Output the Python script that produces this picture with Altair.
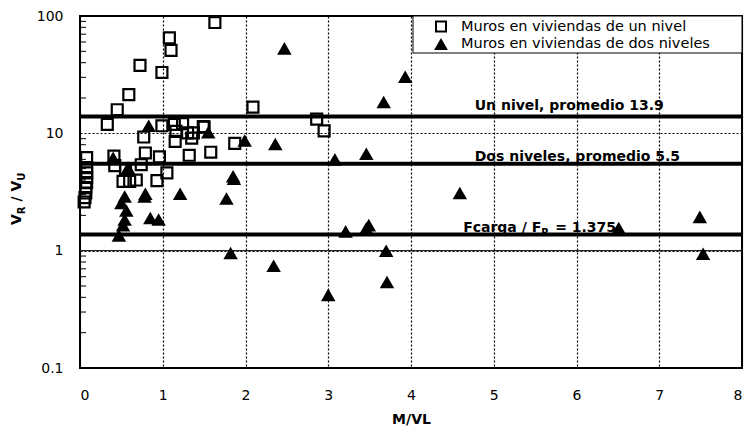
import altair as alt
import pandas as pd

# Walls in one-storey houses: M/VL and VR/VU
un_x = [0.08, 0.08, 0.08, 0.08, 0.08, 0.07, 0.07, 0.06, 0.05,
        0.33, 0.41, 0.42, 0.45, 0.52, 0.55, 0.59, 0.60, 0.68, 0.725, 0.74,
        0.77, 0.79, 0.93, 0.96, 0.99, 0.99, 1.05, 1.08, 1.10, 1.14, 1.16,
        1.15, 1.24, 1.32, 1.30, 1.35, 1.37, 1.49, 1.50, 1.58, 1.63, 1.87,
        2.09, 2.86, 2.95]
un_y = [6.2, 5.1, 4.6, 4.2, 3.8, 3.45, 3.1, 2.83, 2.6,
        11.9, 6.4, 5.3, 15.9, 3.9, 5.0, 21.4, 3.9, 4.0, 38, 5.4,
        9.3, 6.8, 3.95, 6.3, 33, 11.6, 4.6, 65, 51, 11.9, 10.4,
        8.55, 12.1, 6.5, 10.1, 9.1, 10.1, 11.4, 11.3, 6.9, 88, 8.2,
        16.7, 13.2, 10.5]

# Walls in two-storey houses
dos_x = [2.47, 3.93, 3.67, 0.83, 1.55, 1.99, 2.36, 3.46, 3.08, 0.40,
         0.58, 1.85, 1.86, 1.21, 4.59, 1.77, 0.79, 0.78, 0.54, 0.50,
         0.56, 0.54, 0.52, 0.85, 0.95, 0.47, 3.21, 3.46, 3.49, 3.70,
         7.49, 6.51, 1.82, 7.53, 2.34, 3.71, 3.00]
dos_y = [53, 30.3, 18.5, 11.6, 10.2, 8.7, 8.1, 6.7, 6.0, 6.2,
         5.1, 4.3, 4.1, 3.05, 3.1, 2.78, 3.06, 2.9, 2.9, 2.55,
         2.2, 1.84, 1.65, 1.9, 1.84, 1.35, 1.46, 1.55, 1.65, 1.0,
         1.94, 1.56, 0.955, 0.94, 0.745, 0.54, 0.42]

# Reference levels
ref_values = [13.9, 5.5, 1.375]
x_ticks = [0, 1, 2, 3, 4, 5, 6, 7, 8]
y_ticks = [0.1, 1, 10, 100]
minor_ticks = [m * d for d in (0.1, 1, 10) for m in range(2, 10)]

legend_labels = ["Muros en viviendas de un nivel",
                 "Muros en viviendas de dos niveles"]

FONT = "DejaVu Sans"

un_df = pd.DataFrame({"x": un_x, "y": un_y})
dos_df = pd.DataFrame({"x": dos_x, "y": dos_y})
ref_df = pd.DataFrame({"y": ref_values})
minor_df = pd.DataFrame({"y": minor_ticks})
one = pd.DataFrame({"k": [0]})

xs = alt.Scale(domain=[0, 8], nice=False, zero=False)
ys = alt.Scale(type="log", domain=[0.1, 100], nice=False)

x_axis = alt.Axis(values=x_ticks, format="d", ticks=False, domain=False,
                  labelPadding=20, labelFontSize=14, labelFont=FONT,
                  labelColor="black", grid=True, gridColor="black",
                  gridDash=[2, 2], gridWidth=1.2, title="M/VL",
                  titleFont=FONT, titleFontSize=14, titleFontWeight="bold",
                  titleColor="black", titlePadding=10)
y_axis = alt.Axis(values=y_ticks, ticks=False, domain=False,
                  labelPadding=17, labelFontSize=14, labelFont=FONT,
                  labelColor="black", labelExpr="datum.value < 1 ? '0.1' : format(datum.value, 'd')",
                  grid=True, gridColor="black", gridDash=[2, 2], gridWidth=1.2,
                  title=None)

base = alt.Chart(un_df).mark_point(shape="square", filled=False, color="black",
                                   strokeWidth=2.2, size=120, opacity=1).encode(
    x=alt.X("x:Q", scale=xs, axis=x_axis),
    y=alt.Y("y:Q", scale=ys, axis=y_axis),
)

# solid line at VR/VU = 1
unity = alt.Chart(pd.DataFrame({"y": [1]})).mark_rule(color="#222", strokeWidth=1.3).encode(
    y=alt.Y("y:Q", scale=ys))

# inward minor ticks on the log axis
minor = alt.Chart(minor_df).mark_rule(color="black", strokeWidth=1).encode(
    x=alt.value(0), x2=alt.value(6), y=alt.Y("y:Q", scale=ys))

refs = alt.Chart(ref_df).mark_rule(color="black", strokeWidth=4).encode(
    y=alt.Y("y:Q", scale=ys))

tri = alt.Chart(dos_df).mark_point(shape="triangle-up", filled=True, color="black",
                                   size=210, opacity=1).encode(
    x=alt.X("x:Q", scale=xs), y=alt.Y("y:Q", scale=ys))


def label(text, xv, yv, dx=0, dy=0, size=14, bold=True):
    return alt.Chart(one).mark_text(text=text, align="left", baseline="alphabetic",
                                    dx=dx, dy=dy, font=FONT, fontSize=size,
                                    fontWeight="bold" if bold else "normal",
                                    color="black").encode(
        x=alt.datum(xv, scale=xs), y=alt.datum(yv, scale=ys))


lab1 = label("Un nivel, promedio 13.9", 4.77, 13.9, dy=-7)
lab2 = label("Dos niveles, promedio 5.5", 4.77, 5.5, dy=-3)
lab3a = label("Fcarga / F", 4.63, 1.375, dy=-2.5)
lab3b = label("R", 4.63, 1.375, dx=78, dy=1.5, size=10)
lab3c = label("= 1.375", 4.63, 1.375, dx=92, dy=-2.5)


def ptext(text, px, py, size=14, angle=0, bold=False, align="center"):
    kw = dict(text=text, align=align, baseline="middle", font=FONT, fontSize=size,
              fontWeight="bold" if bold else "normal", color="black")
    if angle:
        kw["angle"] = angle
    return alt.Chart(one).mark_text(**kw).encode(x=alt.value(px), y=alt.value(py))


# y-axis title: V_R / V_U
ytitle = [
    ptext("V", -63, 203.6, 14, 270, True),
    ptext("R", -58, 194.3, 10, 270, True),
    ptext("/", -63, 183, 14, 270, True),
    ptext("V", -63, 170.2, 14, 270, True),
    ptext("U", -58, 160.7, 10, 270, True),
]

# legend box
leg_box = alt.Chart(one).mark_rect(fill="white", stroke="black", strokeWidth=1).encode(
    x=alt.value(333), x2=alt.value(662), y=alt.value(0), y2=alt.value(37))
leg_sq = alt.Chart(one).mark_point(shape="square", filled=False, color="black",
                                   strokeWidth=2, size=100, opacity=1).encode(
    x=alt.value(361), y=alt.value(10.5))
leg_tri = alt.Chart(one).mark_point(shape="triangle-up", filled=True, color="black",
                                    size=190, opacity=1).encode(
    x=alt.value(361), y=alt.value(28))
leg_t1 = ptext(legend_labels[0], 381, 10.5, 14.5, align="left")
leg_t2 = ptext(legend_labels[1], 381, 27.5, 14.5, align="left")

chart = alt.layer(
    base, unity, minor, refs, tri,
    lab1, lab2, lab3a, lab3b, lab3c,
    *ytitle,
    leg_box, leg_sq, leg_tri, leg_t1, leg_t2,
).properties(
    width=662, height=352,
    autosize=alt.AutoSizeParams(type="none"),
    padding={"left": 80, "top": 16, "right": 4, "bottom": 63},
    background="white",
).configure_view(stroke="black", strokeWidth=2)

chart.save("out.html", embed_options={"renderer": "svg", "actions": False})
